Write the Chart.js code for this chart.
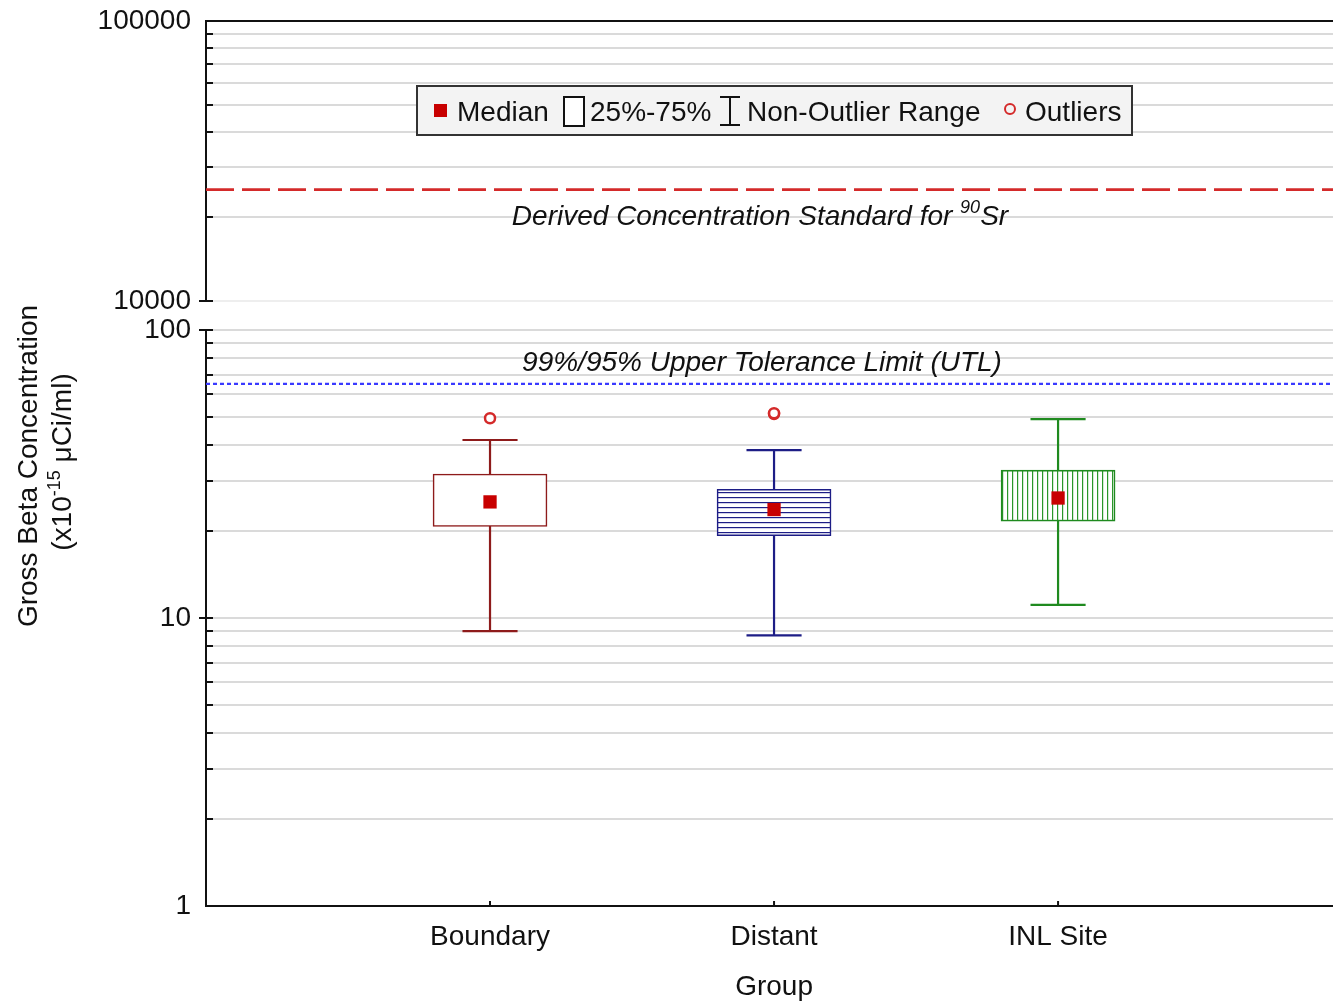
<!DOCTYPE html>
<html>
<head>
<meta charset="utf-8">
<title>Gross Beta Concentration by Group</title>
<script src="https://cdn.jsdelivr.net/npm/chart.js@4.4.1/dist/chart.umd.min.js"></script>
<style>
  html, body { margin: 0; padding: 0; background: #ffffff; overflow: hidden; }
  #wrap { width: 1333px; height: 1001px; position: relative; }
</style>
</head>
<body>
<div id="wrap"><canvas id="chart"></canvas></div>
<script>
// ---- Data (x10^-15 µCi/ml) ----
const groups      = ['Boundary', 'Distant', 'INL Site'];
const medians     = [25.3, 23.8, 26.1];
const q1          = [20.8, 19.3, 21.7];
const q3          = [31.6, 28.0, 32.6];
const whiskerLow  = [9.0, 8.7, 11.1];
const whiskerHigh = [41.5, 38.3, 49.0];
const outliers    = [[49.4], [51.1, 51.4], []];
const dcsValue    = 25000;   // Derived Concentration Standard for 90Sr
const utlValue    = 65;      // 99%/95% upper tolerance limit
const lowerRange  = [1, 100];
const upperRange  = [10000, 100000];
const lowerTicks  = [1, 2, 3, 4, 5, 6, 7, 8, 9, 10, 20, 30, 40, 50, 60, 70, 80, 90, 100];
const upperTicks  = [10000, 20000, 30000, 40000, 50000, 60000, 70000, 80000, 90000, 100000];

// ---- Styling ----
const FONT = '"Liberation Sans", Arial, Helvetica, sans-serif';
const groupColors = ['#8e1b1b', '#1d1d86', '#1f8a1f'];
const medianColor = '#c80000';
const outlierColor = '#d42a2a';
const gridColor = '#dadada';
const CAP = 0.097;      // half width of whisker caps, in category units
const X_MAX = 3.968;    // plot is cut at the right edge

function hatch(direction, color) {
  const c = document.createElement('canvas');
  c.width = 5; c.height = 5;
  const g = c.getContext('2d');
  g.fillStyle = '#ffffff';
  g.fillRect(0, 0, 5, 5);
  g.fillStyle = color;
  if (direction === 'h') g.fillRect(0, 2, 5, 1.2);
  else g.fillRect(2, 0, 1.2, 5);
  return g.createPattern(c, 'repeat');
}
const boxFills = ['#ffffff', hatch('h', '#1d1d86'), hatch('v', '#2a962a')];

// ---- Datasets ----
const boxDataset = {
  type: 'bar',
  label: '25%-75%',
  data: groups.map((g, i) => ({ x: i + 1, y: [q1[i], q3[i]] })),
  backgroundColor: boxFills,
  borderColor: groupColors,
  borderWidth: 1.6,
  borderSkipped: false,
  barThickness: 114,
  xAxisID: 'x', yAxisID: 'yLow',
  order: 1
};

const whiskerDatasets = groups.map((g, i) => {
  const c = i + 1;
  return {
    type: 'line',
    label: 'Non-Outlier Range ' + g,
    data: [
      { x: c - CAP, y: whiskerLow[i] }, { x: c + CAP, y: whiskerLow[i] }, { x: c, y: null },
      { x: c, y: whiskerLow[i] }, { x: c, y: whiskerHigh[i] }, { x: c, y: null },
      { x: c - CAP, y: whiskerHigh[i] }, { x: c + CAP, y: whiskerHigh[i] }
    ],
    borderColor: groupColors[i],
    borderWidth: 2.2,
    pointRadius: 0,
    spanGaps: false,
    tension: 0,
    xAxisID: 'x', yAxisID: 'yLow',
    order: 2
  };
});

const medianDataset = {
  type: 'scatter',
  label: 'Median',
  data: groups.map((g, i) => ({ x: i + 1, y: medians[i] })),
  pointStyle: 'rect',
  pointRadius: 9.4,
  backgroundColor: medianColor,
  borderWidth: 0,
  xAxisID: 'x', yAxisID: 'yLow',
  order: 0
};

const outlierDataset = {
  type: 'scatter',
  label: 'Outliers',
  data: outliers.flatMap((vals, i) => vals.map(v => ({ x: i + 1, y: v }))),
  pointStyle: 'circle',
  pointRadius: 5,
  backgroundColor: '#ffffff',
  borderColor: outlierColor,
  borderWidth: 2.5,
  xAxisID: 'x', yAxisID: 'yLow',
  order: 0
};

const dcsDataset = {
  type: 'line',
  label: 'DCS',
  data: [{ x: 0, y: dcsValue }, { x: 4, y: dcsValue }],
  borderColor: '#d42a2a',
  borderWidth: 2.6,
  borderDash: [28, 8],
  pointRadius: 0,
  xAxisID: 'x', yAxisID: 'yHigh',
  order: 3
};

const utlDataset = {
  type: 'line',
  label: 'UTL',
  data: [{ x: 0, y: utlValue }, { x: 4, y: utlValue }],
  borderColor: '#3a3aff',
  borderWidth: 2.2,
  borderDash: [4, 3],
  pointRadius: 0,
  xAxisID: 'x', yAxisID: 'yLow',
  order: 3
};

// ---- Axes ----
const isDecade = v => Math.abs(Math.log10(v) - Math.round(Math.log10(v))) < 1e-9;
const AXIS_W = 206;

function logAxis(range, tickValues, weight, stackWeight, faintValue) {
  return {
    type: 'logarithmic',
    position: 'left',
    min: range[0], max: range[1],
    stack: 'conc', stackWeight: stackWeight, weight: weight,
    grid: {
      drawTicks: true,
      tickLength: 15,
      tickColor: 'rgba(0,0,0,0)',
      lineWidth: 2,
      color: ctx => (ctx.tick && ctx.tick.value === faintValue) ? '#eeeeee' : gridColor
    },
    border: { display: true, color: '#111111', width: 2 },
    afterBuildTicks: s => { s.ticks = tickValues.map(v => ({ value: v, major: isDecade(v) })); },
    ticks: {
      autoSkip: false,
      padding: 0,
      color: '#111111',
      font: { family: FONT, size: 28 },
      callback: v => isDecade(v) ? String(v) : ''
    },
    afterFit: s => { s.width = AXIS_W; }
  };
}

// ---- Extra drawing: tick marks, borders, texts, legend ----
function drawParts(ctx, parts, x, y, align) {
  let total = 0;
  parts.forEach(p => { ctx.font = p.font; p.w = ctx.measureText(p.t).width; total += p.w; });
  let cx = align === 'center' ? x - total / 2 : x;
  ctx.textAlign = 'left';
  parts.forEach(p => { ctx.font = p.font; ctx.fillText(p.t, cx, y + (p.dy || 0)); cx += p.w; });
}

const extras = {
  id: 'extras',
  afterDraw(chart) {
    const ctx = chart.ctx;
    const area = chart.chartArea;
    const sx = chart.scales.x, yHigh = chart.scales.yHigh, yLow = chart.scales.yLow;
    const ax = area.left;
    ctx.save();

    // top frame line
    ctx.strokeStyle = '#111111';
    ctx.lineWidth = 2;
    ctx.beginPath();
    ctx.moveTo(ax - 1, yHigh.top);
    ctx.lineTo(area.right, yHigh.top);
    ctx.stroke();

    // y tick marks: decades cross the axis, others point inward
    [yHigh, yLow].forEach(s => {
      s.ticks.forEach(t => {
        if ((s === yHigh && t.value === s.max) || (s === yLow && t.value === s.min)) return;
        const py = Math.round(s.getPixelForValue(t.value));
        ctx.beginPath();
        ctx.moveTo(isDecade(t.value) ? ax - 7 : ax, py);
        ctx.lineTo(ax + 7, py);
        ctx.stroke();
      });
    });

    // x tick marks (inward)
    groups.forEach((g, i) => {
      const px = sx.getPixelForValue(i + 1);
      ctx.beginPath();
      ctx.moveTo(px, area.bottom);
      ctx.lineTo(px, area.bottom - 5);
      ctx.stroke();
    });

    ctx.fillStyle = '#111111';
    ctx.textBaseline = 'alphabetic';

    // x axis title
    ctx.font = '28px ' + FONT;
    ctx.textAlign = 'center';
    ctx.fillText('Group', sx.getPixelForValue(2), 995);

    // y axis title (two rotated lines)
    ctx.save();
    ctx.translate(37, 466);
    ctx.rotate(-Math.PI / 2);
    ctx.font = '28px ' + FONT;
    ctx.textAlign = 'center';
    ctx.fillText('Gross Beta Concentration', 0, 0);
    ctx.restore();
    ctx.save();
    ctx.translate(71, 462);
    ctx.rotate(-Math.PI / 2);
    drawParts(ctx, [
      { t: '(x10', font: '28px ' + FONT },
      { t: '-15', font: '18px ' + FONT, dy: -11 },
      { t: ' \u03bcCi/ml)', font: '28px ' + FONT }
    ], 0, 0, 'center');
    ctx.restore();

    // reference line labels
    const dcsY = yHigh.getPixelForValue(dcsValue);
    drawParts(ctx, [
      { t: 'Derived Concentration Standard for ', font: 'italic 28px ' + FONT },
      { t: '90', font: 'italic 18px ' + FONT, dy: -12 },
      { t: 'Sr', font: 'italic 28px ' + FONT }
    ], 760, dcsY + 35, 'center');
    const utlY = yLow.getPixelForValue(utlValue);
    drawParts(ctx, [
      { t: '99%/95% Upper Tolerance Limit (UTL)', font: 'italic 28px ' + FONT }
    ], 762, utlY - 13, 'center');

    // legend
    const L = { x: 417, y: 86, w: 715, h: 49 };
    ctx.fillStyle = '#f3f3f3';
    ctx.fillRect(L.x, L.y, L.w, L.h);
    ctx.strokeStyle = '#333333';
    ctx.lineWidth = 2;
    ctx.strokeRect(L.x, L.y, L.w, L.h);
    const cy = L.y + 25;
    ctx.fillStyle = medianColor;
    ctx.fillRect(434, cy - 7, 13, 13);
    ctx.fillStyle = '#ffffff';
    ctx.fillRect(564, cy - 14, 20, 29);
    ctx.strokeStyle = '#111111';
    ctx.lineWidth = 2;
    ctx.strokeRect(564, cy - 14, 20, 29);
    ctx.beginPath();
    ctx.moveTo(720, cy - 14); ctx.lineTo(740, cy - 14);
    ctx.moveTo(730, cy - 14); ctx.lineTo(730, cy + 14);
    ctx.moveTo(720, cy + 14); ctx.lineTo(740, cy + 14);
    ctx.stroke();
    ctx.strokeStyle = outlierColor;
    ctx.lineWidth = 2;
    ctx.beginPath();
    ctx.arc(1010, cy - 2, 5, 0, Math.PI * 2);
    ctx.stroke();
    ctx.fillStyle = '#111111';
    ctx.font = '28px ' + FONT;
    ctx.textAlign = 'left';
    ctx.fillText('Median', 457, cy + 10);
    ctx.fillText('25%-75%', 590, cy + 10);
    ctx.fillText('Non-Outlier Range', 747, cy + 10);
    ctx.fillText('Outliers', 1025, cy + 10);

    ctx.restore();
  }
};

Chart.defaults.font.family = FONT;
Chart.defaults.font.size = 28;
Chart.defaults.color = '#111111';

new Chart(document.getElementById('chart'), {
  type: 'bar',
  data: {
    datasets: [boxDataset, ...whiskerDatasets, medianDataset, outlierDataset, dcsDataset, utlDataset]
  },
  options: {
    responsive: true,
    maintainAspectRatio: false,
    animation: false,
    events: [],
    layout: { autoPadding: false, padding: { top: 21, right: 0, bottom: 0, left: 0 } },
    plugins: { legend: { display: false }, tooltip: { enabled: false } },
    scales: {
      x: {
        type: 'linear',
        position: 'bottom',
        offset: false,
        min: 0, max: X_MAX,
        grid: { display: false, drawTicks: false, offset: false },
        border: { display: true, color: '#111111', width: 2 },
        afterBuildTicks: s => { s.ticks = groups.map((g, i) => ({ value: i + 1 })); },
        ticks: {
          autoSkip: false,
          maxRotation: 0,
          padding: 14,
          color: '#111111',
          font: { family: FONT, size: 28 },
          callback: v => groups[Math.round(v) - 1] || ''
        },
        afterFit: s => { s.height = 95; }
      },
      yLow: logAxis(lowerRange, lowerTicks, 1, 576, -1),
      yGap: {
        type: 'linear',
        position: 'left',
        min: 0, max: 1,
        stack: 'conc', stackWeight: 29, weight: 2,
        grid: { display: false, drawTicks: false },
        border: { display: false },
        ticks: { display: false },
        afterFit: s => { s.width = AXIS_W; }
      },
      yHigh: logAxis(upperRange, upperTicks, 3, 280, 10000)
    }
  },
  plugins: [extras]
});
</script>
</body>
</html>
